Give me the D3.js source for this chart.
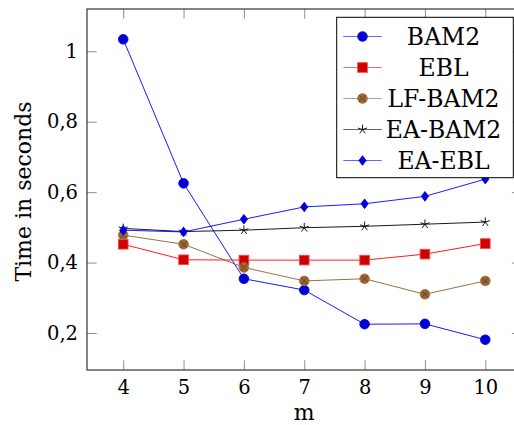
<!DOCTYPE html>
<html>
<head>
<meta charset="utf-8">
<script src="https://cdn.jsdelivr.net/npm/d3@7"></script>
<style>
  html, body { margin: 0; padding: 0; background: #fff; }
  svg { display: block; }
  text { font-family: "DejaVu Serif", "Liberation Serif", serif; fill: #000; }
</style>
</head>
<body>
<svg id="chart" width="514" height="425"></svg>
<script>
// Run time for growing m, one series per method
const mValues = [4, 5, 6, 7, 8, 9, 10];
const bam2    = [1.034, 0.625, 0.354, 0.322, 0.225, 0.226, 0.181];
const ebl     = [0.452, 0.408, 0.407, 0.407, 0.407, 0.424, 0.454];
const lfBam2  = [0.478, 0.452, 0.386, 0.348, 0.354, 0.310, 0.348];
const eaBam2  = [0.497, 0.488, 0.492, 0.499, 0.503, 0.509, 0.515];
const eaEbl   = [0.492, 0.487, 0.523, 0.558, 0.567, 0.588, 0.637];

const seriesNames = ["BAM2", "EBL", "LF-BAM2", "EA-BAM2", "EA-EBL"];
const yTickValues = [0.2, 0.4, 0.6, 0.8, 1];
const yTickLabels = ["0,2", "0,4", "0,6", "0,8", "1"];
const xTitle = "m";
const yTitle = "Time in seconds";

const seriesValues = [bam2, ebl, lfBam2, eaBam2, eaEbl];
const styles = [
  { line: "#0000ff", mark: "circle",  fill: "#0000cc", stroke: "#0000ff" },
  { line: "#ff0000", mark: "square",  fill: "#cc0000", stroke: "#ff4040" },
  { line: "#8f5f33", mark: "otimes",  fill: "#996633", stroke: "#a87340" },
  { line: "#000000", mark: "star",    fill: "none",    stroke: "#000000" },
  { line: "#0000ff", mark: "diamond", fill: "#0000cc", stroke: "#0000ff" }
];

const FONT = "DejaVu Serif, Liberation Serif, serif";
const svg = d3.select("#chart");
const plotL = 87, plotR = 521.5, plotT = 9, plotB = 370;
const x = d3.scaleLinear().domain([3.4, 10.6]).range([plotL, plotR]);
const y = d3.scaleLinear().domain([0.095, 1.12]).range([plotB, plotT]);
const tickLen = 9.7;

// Axes: ticks point inward on all four sides
const gx = svg.append("g").attr("transform", `translate(0,${plotB})`)
  .call(d3.axisBottom(x).tickValues(mValues).tickFormat(d3.format("d"))
        .tickSize(-tickLen).tickPadding(10));
const gxTop = svg.append("g").attr("transform", `translate(0,${plotT})`)
  .call(d3.axisTop(x).tickValues(mValues).tickFormat("").tickSize(-tickLen));
const gy = svg.append("g").attr("transform", `translate(${plotL},0)`)
  .call(d3.axisLeft(y).tickValues(yTickValues)
        .tickFormat((d, i) => yTickLabels[i]).tickSize(-tickLen).tickPadding(9));
const gyRight = svg.append("g").attr("transform", `translate(${plotR},0)`)
  .call(d3.axisRight(y).tickValues(yTickValues).tickFormat("").tickSize(-tickLen));

[gx, gxTop, gy, gyRight].forEach(g => {
  g.attr("font-family", FONT);
  g.select(".domain").remove();
  g.selectAll(".tick line").attr("stroke", "#808080").attr("stroke-width", 0.9);
  g.selectAll(".tick text").attr("font-size", 19.5)
    .attr("font-family", FONT).attr("fill", "#000");
});

// Frame
svg.append("rect")
  .attr("x", plotL).attr("y", plotT)
  .attr("width", plotR - plotL).attr("height", plotB - plotT)
  .attr("fill", "none").attr("stroke", "#222").attr("stroke-width", 1.1);

// Axis titles
svg.append("text").attr("x", (plotL + plotR) / 2).attr("y", 420)
  .attr("text-anchor", "middle").attr("font-size", 22).text(xTitle);
svg.append("text")
  .attr("transform", `translate(31,${(plotT + plotB) / 2 + 2}) rotate(-90)`)
  .attr("text-anchor", "middle").attr("font-size", 22).text(yTitle);

// Marker drawing
function drawMark(g, st, cx, cy) {
  const r = 4.8;
  if (st.mark === "circle") {
    g.append("circle").attr("cx", cx).attr("cy", cy).attr("r", r)
      .attr("fill", st.fill).attr("stroke", st.stroke).attr("stroke-width", 0.9);
  } else if (st.mark === "square") {
    g.append("rect").attr("x", cx - r).attr("y", cy - r)
      .attr("width", 2 * r).attr("height", 2 * r)
      .attr("fill", st.fill).attr("stroke", st.stroke).attr("stroke-width", 0.9);
  } else if (st.mark === "otimes") {
    g.append("circle").attr("cx", cx).attr("cy", cy).attr("r", r)
      .attr("fill", st.fill).attr("stroke", st.stroke).attr("stroke-width", 0.9);
    const k = r * 0.7;
    g.append("path")
      .attr("d", `M${cx - k},${cy - k}L${cx + k},${cy + k}M${cx - k},${cy + k}L${cx + k},${cy - k}`)
      .attr("stroke", "#5e3a1a").attr("stroke-width", 0.8).attr("fill", "none");
  } else if (st.mark === "star") {
    let d = "";
    for (let i = 0; i < 5; i++) {
      const a = -Math.PI / 2 + i * 2 * Math.PI / 5;
      d += `M${cx},${cy}L${cx + r * Math.cos(a)},${cy + r * Math.sin(a)}`;
    }
    g.append("path").attr("d", d).attr("stroke", st.stroke)
      .attr("stroke-width", 0.9).attr("fill", "none");
  } else if (st.mark === "diamond") {
    const rx = r * 0.75;
    g.append("path")
      .attr("d", `M${cx},${cy - r}L${cx + rx},${cy}L${cx},${cy + r}L${cx - rx},${cy}Z`)
      .attr("fill", st.fill).attr("stroke", st.stroke).attr("stroke-width", 0.9);
  }
}

// Series lines and marks
const line = d3.line().x((d, i) => x(mValues[i])).y(d => y(d));
seriesValues.forEach((vals, s) => {
  const st = styles[s];
  const g = svg.append("g");
  g.append("path").datum(vals).attr("d", line)
    .attr("fill", "none").attr("stroke", st.line).attr("stroke-width", 0.9);
  vals.forEach((v, i) => drawMark(g, st, x(mValues[i]), y(v)));
});

// Legend
const lg = svg.append("g");
lg.append("rect").attr("x", 336.7).attr("y", 17.3)
  .attr("width", 176.6).attr("height", 160.4)
  .attr("fill", "#fff").attr("stroke", "#000").attr("stroke-width", 1);
seriesNames.forEach((name, i) => {
  const st = styles[i];
  const cy = 36.5 + i * 31;
  lg.append("line").attr("x1", 343.3).attr("x2", 381.7).attr("y1", cy).attr("y2", cy)
    .attr("stroke", st.line).attr("stroke-width", 1).attr("stroke-opacity", 0.6);
  drawMark(lg, st, 362.5, cy);
  lg.append("text").attr("x", 443.5).attr("y", cy + 8.4)
    .attr("text-anchor", "middle").attr("font-size", 23.5).text(name);
});
</script>
</body>
</html>
